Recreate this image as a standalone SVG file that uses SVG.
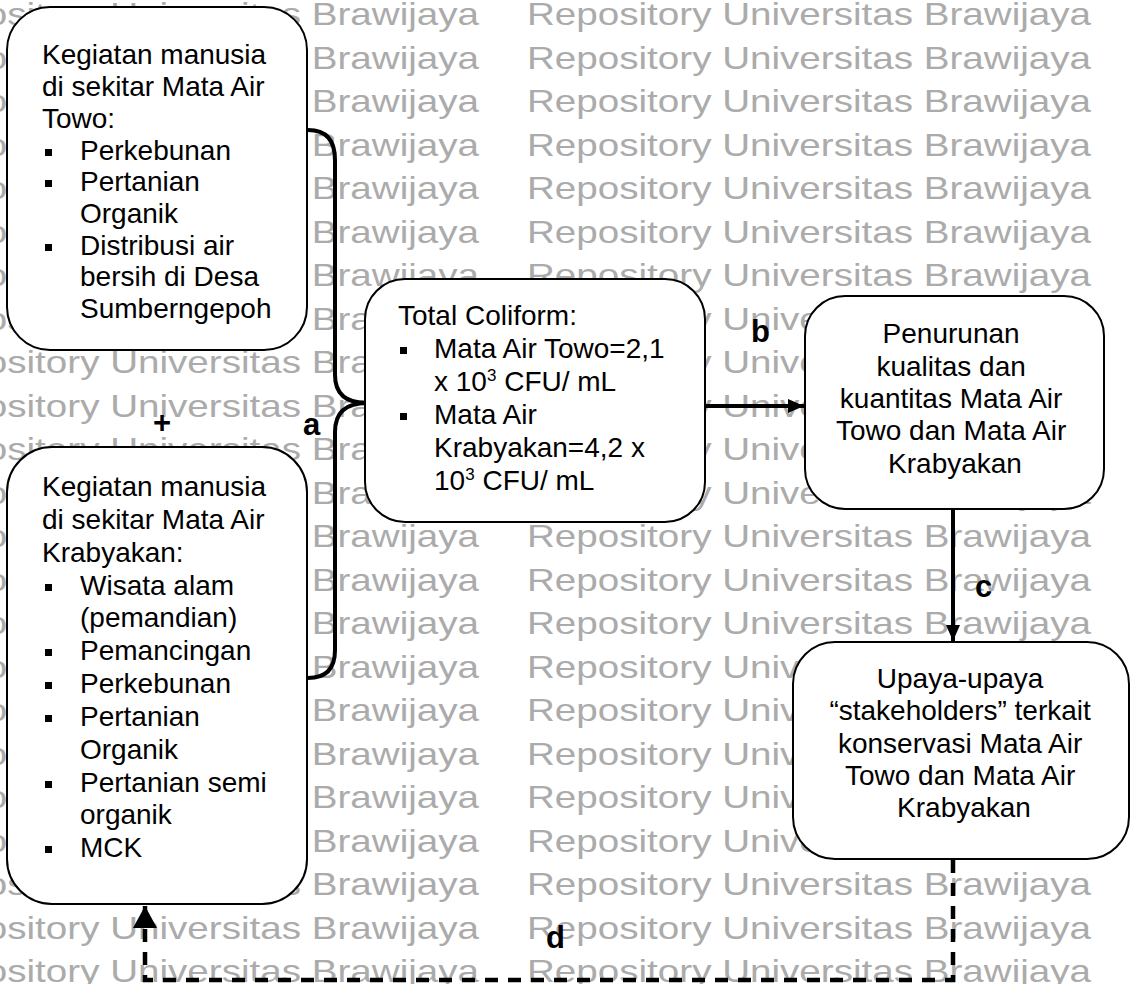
<svg xmlns="http://www.w3.org/2000/svg" width="1134" height="984" viewBox="0 0 1134 984">
<style>
.wm{font-family:"Liberation Sans",Arial,sans-serif;font-size:32px;fill:#ababab}
.box{fill:#fff;stroke:#000;stroke-width:2}
.t{font-family:"Liberation Sans",Arial,sans-serif;font-size:28px;fill:#000}
.c{text-anchor:middle}
.lbl{font-family:"Liberation Sans",Arial,sans-serif;font-size:31px;font-weight:bold;fill:#000}
.bul{fill:#000}
.conn{fill:none;stroke:#000;stroke-width:4}
.dash{fill:none;stroke:#000;stroke-width:4.5;stroke-dasharray:13 10}
</style>
<defs>
<marker id="ah" markerUnits="userSpaceOnUse" markerWidth="16" markerHeight="14" refX="16" refY="7" orient="auto"><path d="M0,0 L16,7 L0,14 Z" fill="#000"/></marker>
<marker id="ahd" markerUnits="userSpaceOnUse" markerWidth="22" markerHeight="24" refX="22" refY="12" orient="auto"><path d="M0,0 L22,12 L0,24 Z" fill="#000"/></marker>
</defs>
<rect width="1134" height="984" fill="#fff"/>
<g id="watermark">
<text class="wm" x="-85" y="25" textLength="564" lengthAdjust="spacingAndGlyphs">Repository Universitas Brawijaya</text><text class="wm" x="527" y="25" textLength="564" lengthAdjust="spacingAndGlyphs">Repository Universitas Brawijaya</text>
<text class="wm" x="-85" y="68.5" textLength="564" lengthAdjust="spacingAndGlyphs">Repository Universitas Brawijaya</text><text class="wm" x="527" y="68.5" textLength="564" lengthAdjust="spacingAndGlyphs">Repository Universitas Brawijaya</text>
<text class="wm" x="-85" y="112" textLength="564" lengthAdjust="spacingAndGlyphs">Repository Universitas Brawijaya</text><text class="wm" x="527" y="112" textLength="564" lengthAdjust="spacingAndGlyphs">Repository Universitas Brawijaya</text>
<text class="wm" x="-85" y="155.5" textLength="564" lengthAdjust="spacingAndGlyphs">Repository Universitas Brawijaya</text><text class="wm" x="527" y="155.5" textLength="564" lengthAdjust="spacingAndGlyphs">Repository Universitas Brawijaya</text>
<text class="wm" x="-85" y="199" textLength="564" lengthAdjust="spacingAndGlyphs">Repository Universitas Brawijaya</text><text class="wm" x="527" y="199" textLength="564" lengthAdjust="spacingAndGlyphs">Repository Universitas Brawijaya</text>
<text class="wm" x="-85" y="242.5" textLength="564" lengthAdjust="spacingAndGlyphs">Repository Universitas Brawijaya</text><text class="wm" x="527" y="242.5" textLength="564" lengthAdjust="spacingAndGlyphs">Repository Universitas Brawijaya</text>
<text class="wm" x="-85" y="286" textLength="564" lengthAdjust="spacingAndGlyphs">Repository Universitas Brawijaya</text><text class="wm" x="527" y="286" textLength="564" lengthAdjust="spacingAndGlyphs">Repository Universitas Brawijaya</text>
<text class="wm" x="-85" y="329.5" textLength="564" lengthAdjust="spacingAndGlyphs">Repository Universitas Brawijaya</text><text class="wm" x="527" y="329.5" textLength="564" lengthAdjust="spacingAndGlyphs">Repository Universitas Brawijaya</text>
<text class="wm" x="-85" y="373" textLength="564" lengthAdjust="spacingAndGlyphs">Repository Universitas Brawijaya</text><text class="wm" x="527" y="373" textLength="564" lengthAdjust="spacingAndGlyphs">Repository Universitas Brawijaya</text>
<text class="wm" x="-85" y="416.5" textLength="564" lengthAdjust="spacingAndGlyphs">Repository Universitas Brawijaya</text><text class="wm" x="527" y="416.5" textLength="564" lengthAdjust="spacingAndGlyphs">Repository Universitas Brawijaya</text>
<text class="wm" x="-85" y="460" textLength="564" lengthAdjust="spacingAndGlyphs">Repository Universitas Brawijaya</text><text class="wm" x="527" y="460" textLength="564" lengthAdjust="spacingAndGlyphs">Repository Universitas Brawijaya</text>
<text class="wm" x="-85" y="503.5" textLength="564" lengthAdjust="spacingAndGlyphs">Repository Universitas Brawijaya</text><text class="wm" x="527" y="503.5" textLength="564" lengthAdjust="spacingAndGlyphs">Repository Universitas Brawijaya</text>
<text class="wm" x="-85" y="547" textLength="564" lengthAdjust="spacingAndGlyphs">Repository Universitas Brawijaya</text><text class="wm" x="527" y="547" textLength="564" lengthAdjust="spacingAndGlyphs">Repository Universitas Brawijaya</text>
<text class="wm" x="-85" y="590.5" textLength="564" lengthAdjust="spacingAndGlyphs">Repository Universitas Brawijaya</text><text class="wm" x="527" y="590.5" textLength="564" lengthAdjust="spacingAndGlyphs">Repository Universitas Brawijaya</text>
<text class="wm" x="-85" y="634" textLength="564" lengthAdjust="spacingAndGlyphs">Repository Universitas Brawijaya</text><text class="wm" x="527" y="634" textLength="564" lengthAdjust="spacingAndGlyphs">Repository Universitas Brawijaya</text>
<text class="wm" x="-85" y="677.5" textLength="564" lengthAdjust="spacingAndGlyphs">Repository Universitas Brawijaya</text><text class="wm" x="527" y="677.5" textLength="564" lengthAdjust="spacingAndGlyphs">Repository Universitas Brawijaya</text>
<text class="wm" x="-85" y="721" textLength="564" lengthAdjust="spacingAndGlyphs">Repository Universitas Brawijaya</text><text class="wm" x="527" y="721" textLength="564" lengthAdjust="spacingAndGlyphs">Repository Universitas Brawijaya</text>
<text class="wm" x="-85" y="764.5" textLength="564" lengthAdjust="spacingAndGlyphs">Repository Universitas Brawijaya</text><text class="wm" x="527" y="764.5" textLength="564" lengthAdjust="spacingAndGlyphs">Repository Universitas Brawijaya</text>
<text class="wm" x="-85" y="808" textLength="564" lengthAdjust="spacingAndGlyphs">Repository Universitas Brawijaya</text><text class="wm" x="527" y="808" textLength="564" lengthAdjust="spacingAndGlyphs">Repository Universitas Brawijaya</text>
<text class="wm" x="-85" y="851.5" textLength="564" lengthAdjust="spacingAndGlyphs">Repository Universitas Brawijaya</text><text class="wm" x="527" y="851.5" textLength="564" lengthAdjust="spacingAndGlyphs">Repository Universitas Brawijaya</text>
<text class="wm" x="-85" y="895" textLength="564" lengthAdjust="spacingAndGlyphs">Repository Universitas Brawijaya</text><text class="wm" x="527" y="895" textLength="564" lengthAdjust="spacingAndGlyphs">Repository Universitas Brawijaya</text>
<text class="wm" x="-85" y="938.5" textLength="564" lengthAdjust="spacingAndGlyphs">Repository Universitas Brawijaya</text><text class="wm" x="527" y="938.5" textLength="564" lengthAdjust="spacingAndGlyphs">Repository Universitas Brawijaya</text>
<text class="wm" x="-85" y="982" textLength="564" lengthAdjust="spacingAndGlyphs">Repository Universitas Brawijaya</text><text class="wm" x="527" y="982" textLength="564" lengthAdjust="spacingAndGlyphs">Repository Universitas Brawijaya</text>
</g>
<g id="connectors">
<path class="conn" d="M308,130 Q335,130 335,160 L335,375 Q335,403 367,403 Q335,403 335,432 L335,650 Q335,678 308,678"/>
<line class="conn" x1="705" y1="406" x2="804" y2="406" marker-end="url(#ah)"/>
<line class="conn" x1="953" y1="509" x2="953" y2="641" marker-end="url(#ah)"/>
<path class="dash" d="M953,860 L953,980 L145,980 L145,906" marker-end="url(#ahd)"/>
<text class="lbl" x="303" y="435">a</text>
<text class="lbl" x="751" y="342">b</text>
<text class="lbl" x="975" y="597">c</text>
<text class="lbl" x="546" y="948">d</text>
<text class="lbl" x="162" y="433" text-anchor="middle" font-size="34">+</text>
</g>
<g id="node-towo">
<rect class="box" x="7" y="7" width="300" height="343" rx="43"/>
<text class="t">
<tspan x="42" y="64">Kegiatan manusia</tspan>
<tspan x="42" y="96">di sekitar Mata Air</tspan>
<tspan x="42" y="128">Towo:</tspan>
<tspan x="80" y="160">Perkebunan</tspan>
<tspan x="80" y="191">Pertanian</tspan>
<tspan x="80" y="223">Organik</tspan>
<tspan x="80" y="255">Distribusi air</tspan>
<tspan x="80" y="286">bersih di Desa</tspan>
<tspan x="80" y="318">Sumberngepoh</tspan>
</text>
<rect class="bul" x="45" y="149" width="7" height="7"/>
<rect class="bul" x="45" y="180" width="7" height="7"/>
<rect class="bul" x="45" y="244" width="7" height="7"/>
</g>
<g id="node-krabyakan">
<rect class="box" x="7" y="447" width="300" height="457" rx="45"/>
<text class="t">
<tspan x="42" y="496">Kegiatan manusia</tspan>
<tspan x="42" y="529">di sekitar Mata Air</tspan>
<tspan x="42" y="562">Krabyakan:</tspan>
<tspan x="80" y="595">Wisata alam</tspan>
<tspan x="80" y="627">(pemandian)</tspan>
<tspan x="80" y="660">Pemancingan</tspan>
<tspan x="80" y="693">Perkebunan</tspan>
<tspan x="80" y="726">Pertanian</tspan>
<tspan x="80" y="759">Organik</tspan>
<tspan x="80" y="792">Pertanian semi</tspan>
<tspan x="80" y="824">organik</tspan>
<tspan x="80" y="857">MCK</tspan>
</text>
<rect class="bul" x="45" y="584" width="7" height="7"/>
<rect class="bul" x="45" y="649" width="7" height="7"/>
<rect class="bul" x="45" y="682" width="7" height="7"/>
<rect class="bul" x="45" y="715" width="7" height="7"/>
<rect class="bul" x="45" y="781" width="7" height="7"/>
<rect class="bul" x="45" y="846" width="7" height="7"/>
</g>
<g id="node-coliform">
<rect class="box" x="365" y="279" width="340" height="243" rx="40"/>
<text class="t">
<tspan x="398" y="325">Total Coliform:</tspan>
<tspan x="434" y="358">Mata Air Towo=2,1</tspan>
<tspan x="434" y="391">x 10<tspan font-size="17" dy="-10">3</tspan><tspan dy="10"> CFU/ mL</tspan></tspan>
<tspan x="434" y="424">Mata Air</tspan>
<tspan x="434" y="457">Krabyakan=4,2 x</tspan>
<tspan x="434" y="490">10<tspan font-size="17" dy="-10">3</tspan><tspan dy="10"> CFU/ mL</tspan></tspan>
</text>
<rect class="bul" x="400" y="347" width="7" height="7"/>
<rect class="bul" x="400" y="413" width="7" height="7"/>
</g>
<g id="node-penurunan">
<rect class="box" x="805" y="296" width="299" height="213" rx="40"/>
<text class="t c">
<tspan x="955" y="343">Penurunan</tspan>
<tspan x="955" y="376">kualitas dan</tspan>
<tspan x="955" y="408">kuantitas Mata Air</tspan>
<tspan x="955" y="440">Towo dan Mata Air</tspan>
<tspan x="955" y="473">Krabyakan</tspan>
</text>
</g>
<g id="node-upaya">
<rect class="box" x="793" y="642" width="336" height="217" rx="42"/>
<text class="t c">
<tspan x="964" y="688">Upaya-upaya</tspan>
<tspan x="964" y="720">“stakeholders” terkait</tspan>
<tspan x="964" y="753">konservasi Mata Air</tspan>
<tspan x="964" y="785">Towo dan Mata Air</tspan>
<tspan x="964" y="817">Krabyakan</tspan>
</text>
</g>
</svg>
